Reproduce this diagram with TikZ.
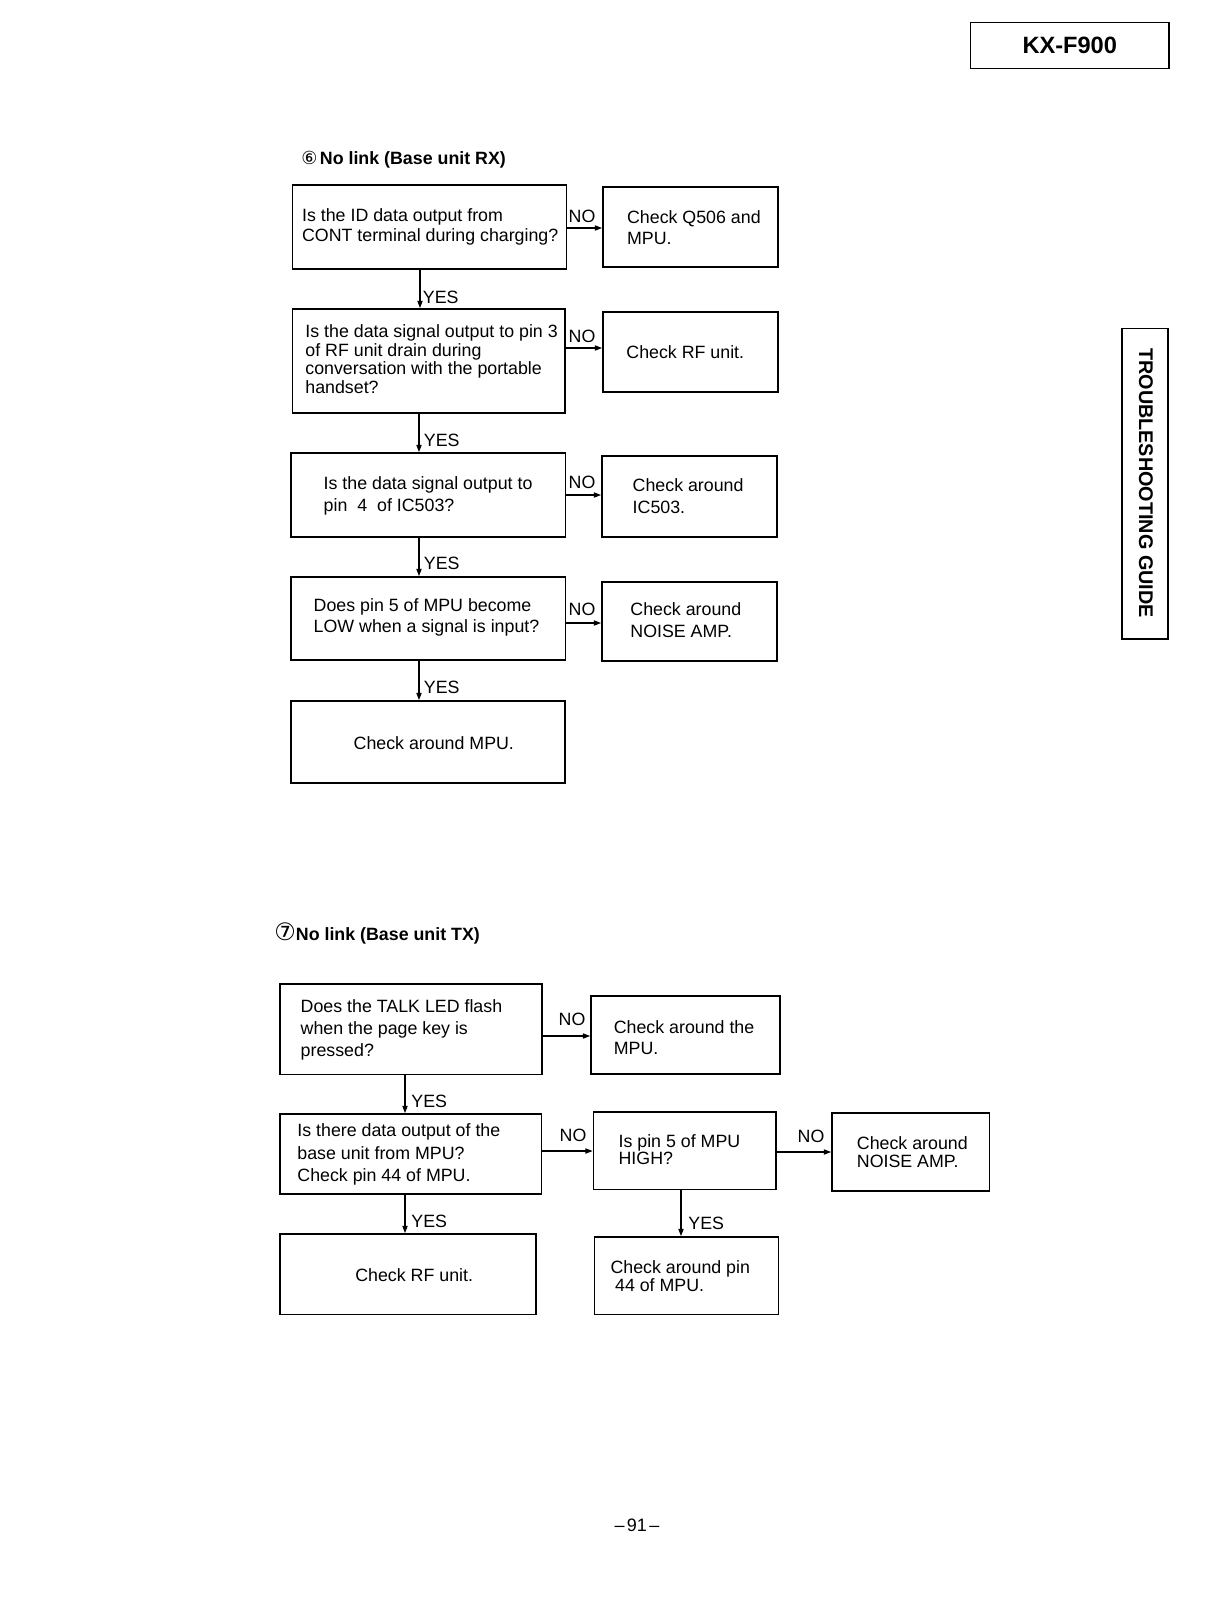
\documentclass[tikz,border=0pt]{standalone}
\usepackage{fontspec}
\setmainfont{Liberation Sans}
\newfontfamily\circfont{DejaVu Sans}
\usetikzlibrary{arrows.meta}
\newcommand\flowbox[5]{\node[box, minimum width={(#4-#2)*0.5pt}, minimum height={(#5-#3)*0.5pt}] (#1) at ({(#2+#4)/2},{(#3+#5)/2}) {};}
\begin{document}
\begin{tikzpicture}[x=0.5pt,y=-0.5pt,
  box/.style={draw, line width=0.9pt, inner sep=0pt},
  txt/.style={inner sep=0pt, anchor=west, align=left, font=\fontsize{8.9}{#1}\selectfont},
  txt/.default=10.8pt,
  nolab/.style={inner sep=0pt, font=\fontsize{8.9}{10}\selectfont},
  yeslab/.style={inner sep=0pt, anchor=west, font=\fontsize{8.9}{10}\selectfont},
  head/.style={inner sep=0pt, anchor=west, font=\fontsize{8.9}{10}\selectfont\bfseries},
  arr/.style={line width=0.55pt, -{Triangle[length=3.6pt,width=2.6pt]}},
]
\useasboundingbox (0,0) rectangle (1216,1612);

% header box
\node[box, minimum width={198.5*0.5pt}, minimum height={46*0.5pt}, font=\fontsize{11.8}{13}\selectfont\bfseries] (kx) at (1069.75,45.5) {KX-F900};

% side tab
\flowbox{tab}{1122}{328.5}{1168}{639}
\node[inner sep=0pt, rotate=-90, font=\fontsize{9.9}{11}\selectfont\bfseries] (tabt) at (1146,483) {TROUBLESHOOTING GUIDE};

% ===== Section 6 =====
\node[head] (h6) at (301,160) {{\circfont\mdseries\fontsize{9}{10}\selectfont ⑥}\hspace{1.2pt}No link (Base unit RX)};

\flowbox{b1}{292.5}{185}{566.5}{269}
\flowbox{n1}{603}{187}{778}{267}
\flowbox{b2}{292.5}{309}{565}{413}
\flowbox{n2}{603}{312}{778}{392}
\flowbox{b3}{291}{453}{565.5}{537}
\flowbox{n3}{602}{456}{777}{537}
\flowbox{b4}{291}{577}{565.5}{660}
\flowbox{n4}{602}{582}{777}{661}
\flowbox{b5}{291}{701}{565}{783}

\node[txt=10.3pt] (t1) at (301.7,227) {Is the ID data output from\\CONT terminal during charging?};
\node[txt=10.8pt] (tn1) at (626.7,227.5) {Check Q506 and\\MPU.};
\node[txt=7.95pt] (t2) at (305,359) {Is the data signal output to pin 3\\of RF unit drain during\\conversation with the portable\\handset?};
\node[txt] (tn2) at (626,352) {Check RF unit.};
\node[txt=11.15pt] (t3) at (323.3,496) {Is the data signal output to\\pin~~4~~of IC503?};
\node[txt=11pt] (tn3) at (632.3,496) {Check around\\IC503.};
\node[txt=10.8pt] (t4) at (313.3,617.5) {Does pin 5 of MPU become\\LOW when a signal is input?};
\node[txt=10.7pt] (tn4) at (630,620) {Check around\\NOISE AMP.};
\node[txt] (t5) at (353.3,742.7) {Check around MPU.};

\draw[arr] (b1.east |- 0,228) -- (n1.west |- 0,228);
\draw[arr] (b2.east |- 0,348) -- (n2.west |- 0,348);
\draw[arr] (b3.east |- 0,495) -- (n3.west |- 0,495);
\draw[arr] (b4.east |- 0,623) -- (n4.west |- 0,623);
\node[nolab] (no1) at (582,216) {NO};
\node[nolab] (no2) at (582,336) {NO};
\node[nolab] (no3) at (582,482) {NO};
\node[nolab] (no4) at (582,609) {NO};

\draw[arr] (b1.south -| 420,0) -- (b2.north -| 420,0);
\draw[arr] (b2.south -| 419,0) -- (b3.north -| 419,0);
\draw[arr] (b3.south -| 419,0) -- (b4.north -| 419,0);
\draw[arr] (b4.south -| 419,0) -- (b5.north -| 419,0);
\node[yeslab] (y1) at (422.5,297) {YES};
\node[yeslab] (y2) at (423.5,440) {YES};
\node[yeslab] (y3) at (423.5,563) {YES};
\node[yeslab] (y4) at (423.5,687) {YES};

% ===== Section 7 =====
\node[head] (h7) at (274,933) {{\circfont\mdseries\fontsize{12}{13}\selectfont ⑦}No link (Base unit TX)};

\flowbox{bA}{280}{984}{542}{1074.5}
\flowbox{nA}{591}{996}{780}{1074}
\flowbox{bB}{280}{1114}{541.5}{1194}
\flowbox{cP}{593.5}{1112}{776}{1189.5}
\flowbox{nN}{832}{1113}{989.5}{1191}
\flowbox{bR}{280}{1234}{536}{1314.5}
\flowbox{bQ}{594.5}{1237}{778.5}{1314.5}

\node[txt=11pt] (tA) at (300.3,1029.7) {Does the TALK LED flash\\when the page key is\\pressed?};
\node[txt=10.5pt] (tnA) at (613.4,1037.8) {Check around the\\MPU.};
\node[txt=11.1pt] (tB) at (297,1154.5) {Is there data output of the\\base unit from MPU?\\Check pin 44 of MPU.};
\node[txt=8.8pt] (tP) at (618.2,1149.5) {Is pin 5 of MPU\\HIGH?};
\node[txt=9pt] (tN) at (856.5,1151.7) {Check around\\NOISE AMP.};
\node[txt] (tR) at (354.9,1275) {Check RF unit.};
\node[txt=8.85pt] (tQ) at (610.1,1276) {Check around pin\\\hspace{2.3pt}44 of MPU.};

\draw[arr] (bA.east |- 0,1036) -- (nA.west |- 0,1036);
\draw[arr] (bB.east |- 0,1151) -- (cP.west |- 0,1151);
\draw[arr] (cP.east |- 0,1152) -- (nN.west |- 0,1152);
\node[nolab] (no5) at (572,1019) {NO};
\node[nolab] (no6) at (573,1135) {NO};
\node[nolab] (no7) at (811,1136) {NO};

\draw[arr] (bA.south -| 405,0) -- (bB.north -| 405,0);
\draw[arr] (bB.south -| 405,0) -- (bR.north -| 405,0);
\draw[arr] (cP.south -| 681,0) -- (bQ.north -| 681,0);
\node[yeslab] (y5) at (411,1101) {YES};
\node[yeslab] (y6) at (411,1221) {YES};
\node[yeslab] (y7) at (688,1223) {YES};

% page number
\node[inner sep=0pt, font=\fontsize{9}{10}\selectfont] (pg) at (637,1525) {–\hspace{1.2pt}91\hspace{1.2pt}–};
\end{tikzpicture}
\end{document}
